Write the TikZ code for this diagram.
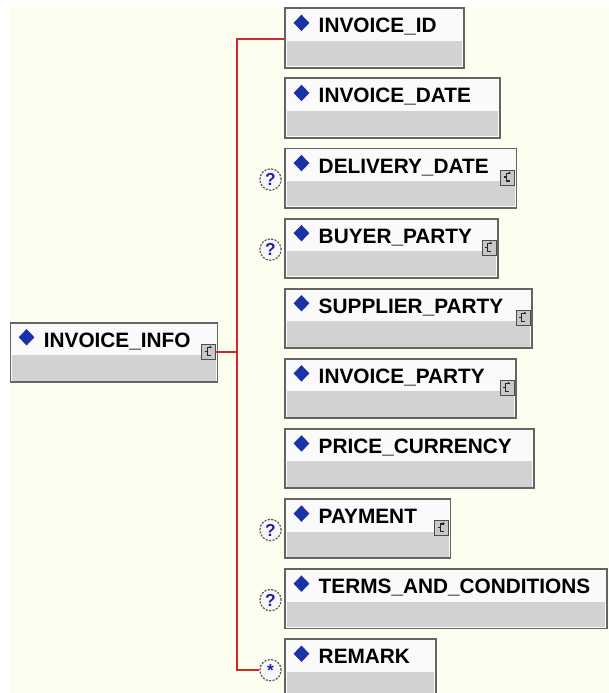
\documentclass[tikz,border=0pt]{standalone}
\usepackage{fontspec}
\setmainfont{Liberation Sans}
\usetikzlibrary{shapes.geometric,fit,calc}
\definecolor{cream}{RGB}{254,254,240}
\definecolor{hdr}{RGB}{250,250,250}
\definecolor{grayband}{RGB}{210,210,210}
\definecolor{bord}{RGB}{100,100,100}
\definecolor{conred}{RGB}{210,40,40}
\definecolor{dblue}{RGB}{25,50,165}
\definecolor{qblue}{RGB}{30,30,170}
\definecolor{icfill}{RGB}{200,200,200}
\tikzset{
  elbox/.style={draw=bord, line width=1.4pt, fill=hdr, inner sep=0pt, rectangle},
  diam/.style={diamond, fill=dblue, minimum width=12pt, minimum height=12.5pt, inner sep=0pt},
  lbl/.style={inner sep=0pt, font=\fontsize{15.6}{18}\selectfont\bfseries, text=black},
  icon/.style={rectangle, draw=black!70, line width=0.9pt, fill=icfill, minimum width=10.5pt, minimum height=11.25pt, inner sep=0pt},
  glyph/.style={line width=0.9pt, black!85},
  opt/.style={circle, draw=black!65, line width=0.9pt, dash pattern=on 1.6pt off 1pt, fill=white!94!gray, minimum size=16pt, inner sep=0pt, text=qblue, font=\fontsize{13}{13}\selectfont\bfseries},
  conn/.style={draw=conred, line width=1.5pt}
}
\newcommand{\xel}[5]{%
  \coordinate (#1-nw) at (#2,#3);
  \coordinate (#1-se) at (#4,#3+59.4);
  \node[elbox, fit=(#1-nw)(#1-se)] (#1) {};
  \fill[grayband] ([shift={(2.5,33.5)}]#1.north west) rectangle ([shift={(-2.5,-2.5)}]#1.south east);
  \node[diam] (#1-d) at ([shift={(17,15.5)}]#1.north west) {};
  \node[lbl, anchor=base west] (#1-t) at ([shift={(34,25.5)}]#1.north west) {#5};
}
\newcommand{\xic}[1]{%
  \node[icon, anchor=north east] (#1-ic) at ([shift={(-2,22)}]#1.north east) {};
  \draw[glyph] ([shift={(9.5,4)}]#1-ic.north west) -- ++(-3.5,0) -- ++(0,7.5) -- ++(3.5,0);
  \draw[glyph] ([shift={(3.5,7.5)}]#1-ic.north west) -- ++(2.5,0);
  \draw[glyph] ([shift={(8.5,2.5)}]#1-ic.north west) -- ++(1.5,1.5);
}
\begin{document}
\begin{tikzpicture}[x=0.75pt,y=-0.75pt]
\useasboundingbox (0,0) rectangle (609,693);
\clip (0,0) rectangle (609,693);
\fill[white] (0,0) rectangle (609,693);
\fill[cream] (10,7.3) rectangle (609,693);

% parent
\xel{info}{10.5}{322.7}{217.5}{INVOICE\_INFO}
\xic{info}

% children
\xel{r0}{285.4}{8.3}{464}{INVOICE\_ID}
\xel{r1}{285.4}{78.4}{500}{INVOICE\_DATE}
\xel{r2}{285.4}{148.5}{516.5}{DELIVERY\_DATE}
\xic{r2}
\xel{r3}{285.4}{218.6}{498}{BUYER\_PARTY}
\xic{r3}
\xel{r4}{285.4}{288.7}{532}{SUPPLIER\_PARTY}
\xic{r4}
\xel{r5}{285.4}{358.8}{516}{INVOICE\_PARTY}
\xic{r5}
\xel{r6}{285.4}{428.9}{534}{PRICE\_CURRENCY}
\xel{r7}{285.4}{499.0}{450.5}{PAYMENT}
\xic{r7}
\xel{r8}{285.4}{569.1}{607}{TERMS\_AND\_CONDITIONS}
\xel{r9}{285.4}{639.2}{435.7}{REMARK}

% occurrence markers
\node[opt] (r2-c) at (270.5,179.5) {?};
\node[opt] (r3-c) at (270.5,249.6) {?};
\node[opt] (r7-c) at (270.5,530.0) {?};
\node[opt] (r8-c) at (270.5,600.1) {?};
\node[opt] (r9-c) at (270.5,670.2) {*};

% connectors
\coordinate (spTop) at (237.3,39.3);
\coordinate (spBot) at (237.3,670.2);
\draw[conn] (info-ic.east) -- (info-ic.east -| spTop);
\draw[conn] (r0.west |- spTop) -- (spTop) -- (spBot) -- (r9-c.west);
\end{tikzpicture}
\end{document}
